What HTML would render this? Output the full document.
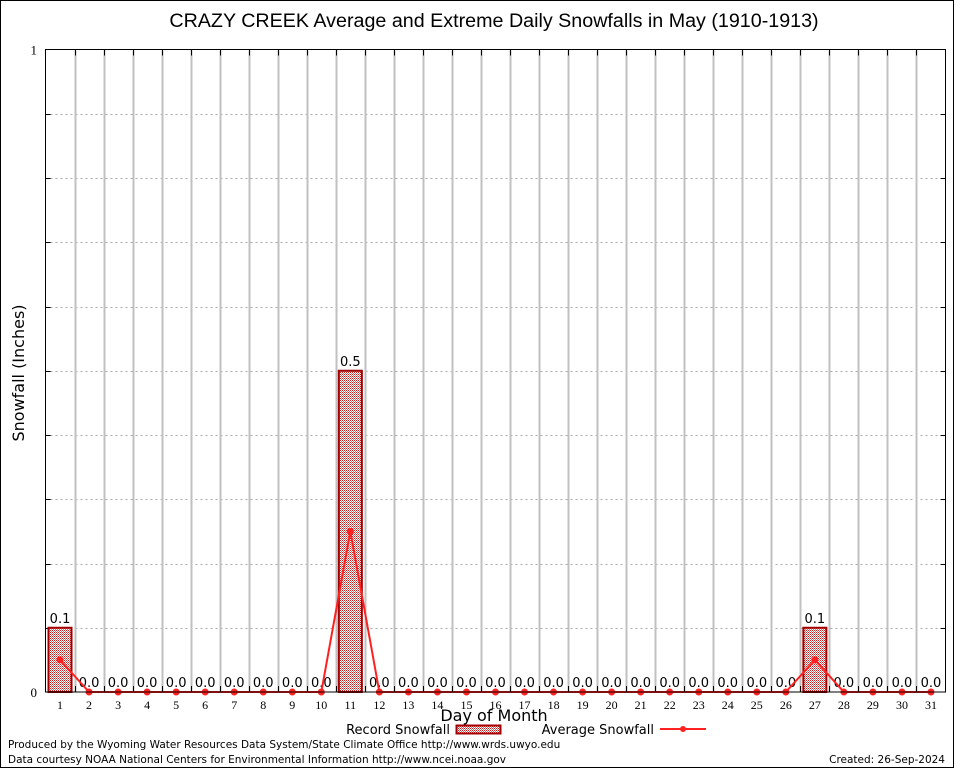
<!DOCTYPE html>
<html><head><meta charset="utf-8"><style>
body{margin:0;background:#fff}
svg{display:block;font-family:"DejaVu Sans",sans-serif}
</style></head><body>
<svg id="c" width="954" height="768">
<defs>
<pattern id="hatch" width="2" height="2" patternUnits="userSpaceOnUse">
<rect width="2" height="2" fill="#fff"/>
<rect x="0" y="0" width="1" height="1" fill="#c02020"/>
<rect x="1" y="1" width="1" height="1" fill="#e07070"/>
</pattern>
</defs>
<rect x="0.5" y="0.5" width="953" height="767" fill="#fff" stroke="#000"/>
<text x="494" y="27" font-size="19.7" text-anchor="middle" font-family="Liberation Sans, sans-serif">CRAZY CREEK Average and Extreme Daily Snowfalls in May (1910-1913)</text>
<g id="grid"></g>
<g id="bars"></g>
<g id="avg"></g>
<rect x="45.5" y="49.5" width="900" height="642.5" fill="none" stroke="#000"/>
<g id="xt"></g>
<text x="24" y="373" font-size="16" text-anchor="middle" transform="rotate(-90 24 373)">Snowfall (Inches)</text>
<text x="494" y="721" font-size="16" text-anchor="middle">Day of Month</text>
<g>
<text x="450" y="734" font-size="13" text-anchor="end">Record Snowfall</text>
<rect x="456.5" y="725.5" width="44" height="8" fill="url(#hatch)" stroke="#a00000" stroke-width="2"/>
</g>
<g>
<text x="654" y="734" font-size="13" text-anchor="end">Average Snowfall</text>
<line x1="660" y1="729" x2="706" y2="729" stroke="#ff2020" stroke-width="2"/>
<circle cx="683" cy="729" r="3" fill="#ff2020"/>
</g>
<text x="8" y="748" font-size="10.5">Produced by the Wyoming Water Resources Data System/State Climate Office http://www.wrds.uwyo.edu</text>
<text x="8" y="763" font-size="10.5">Data courtesy NOAA National Centers for Environmental Information http://www.ncei.noaa.gov</text>
<text x="945" y="763" font-size="10.5" text-anchor="end">Created: 26-Sep-2024</text>
</svg>
<script>
const days=[1,2,3,4,5,6,7,8,9,10,11,12,13,14,15,16,17,18,19,20,21,22,23,24,25,26,27,28,29,30,31];
const recordVals=[0.1,0,0,0,0,0,0,0,0,0,0.5,0,0,0,0,0,0,0,0,0,0,0,0,0,0,0,0.1,0,0,0,0];
const avgVals=[0.05,0,0,0,0,0,0,0,0,0,0.25,0,0,0,0,0,0,0,0,0,0,0,0,0,0,0,0.05,0,0,0,0];
const yTicks=[0,0.1,0.2,0.3,0.4,0.5,0.6,0.7,0.8,0.9,1];
const yLabels=["0","","","","","","","","","","1"];
const NS="http://www.w3.org/2000/svg";
const X0=45.5,X1=945.5,Y0=692,Y1=49.5,yMax=1;
const dw=(X1-X0)/days.length;
const xc=i=>X0+dw*(i+0.5);
const y=v=>Y0-(v/yMax)*(Y0-Y1);
function mk(p,t,a){const e=document.createElementNS(NS,t);for(const k in a)e.setAttribute(k,a[k]);document.getElementById(p).appendChild(e);return e;}
yTicks.forEach((v,i)=>{
 if(v>0&&v<yMax){const l=mk('grid','line',{x1:X0,x2:X1,y1:Math.round(y(v))+0.5,y2:Math.round(y(v))+0.5,stroke:'#aaa','stroke-dasharray':'2,3'});
 
 
 mk('grid','line',{x1:X0,x2:X0+5,y1:Math.round(y(v))+0.5,y2:Math.round(y(v))+0.5,stroke:'#000'});
 mk('grid','line',{x1:X1-5,x2:X1,y1:Math.round(y(v))+0.5,y2:Math.round(y(v))+0.5,stroke:'#000'});}
 if(yLabels[i]){const t=mk('xt','text',{x:37,y:y(v)+5,'font-size':13,'text-anchor':'end','font-family':'Liberation Serif,serif'});t.textContent=yLabels[i];
 
 }
});
for(let i=1;i<days.length;i++){const x=Math.round(X0+dw*i)+0.5;
 const l=mk('grid','line',{x1:x,x2:x,y1:Y1,y2:Y0,stroke:'#c0c0c0','stroke-width':2});
 
 
 mk('xt','line',{x1:x,x2:x,y1:Y1,y2:Y1+6,stroke:'#000'});
 mk('xt','line',{x1:x,x2:x,y1:Y0-6,y2:Y0,stroke:'#000'});}
days.forEach((d,i)=>{
 const t=mk('xt','text',{x:xc(i),y:709,'font-size':12,'text-anchor':'middle','font-family':'Liberation Serif,serif'});t.textContent=d;
 
 
 const v=recordVals[i];
 if(v>0){const b=mk('bars','rect',{x:xc(i)-11.5,y:y(v),width:23,height:Y0-y(v),fill:'url(#hatch)',stroke:'#a00000','stroke-width':2});
 
 }
 const lt=mk('bars','text',{x:xc(i),y:y(v)-5,'font-size':13,'text-anchor':'middle'});lt.textContent=v.toFixed(1);
 
 
});
const pts=avgVals.map((v,i)=>xc(i)+','+y(v)).join(' ');
const pl=mk('avg','polyline',{points:pts,fill:'none',stroke:'#ff2020','stroke-width':2});


avgVals.forEach((v,i)=>{const c=mk('avg','circle',{cx:xc(i),cy:y(v),r:3.5,fill:'#ff2020'});
 
 });
</script>
</body></html>
